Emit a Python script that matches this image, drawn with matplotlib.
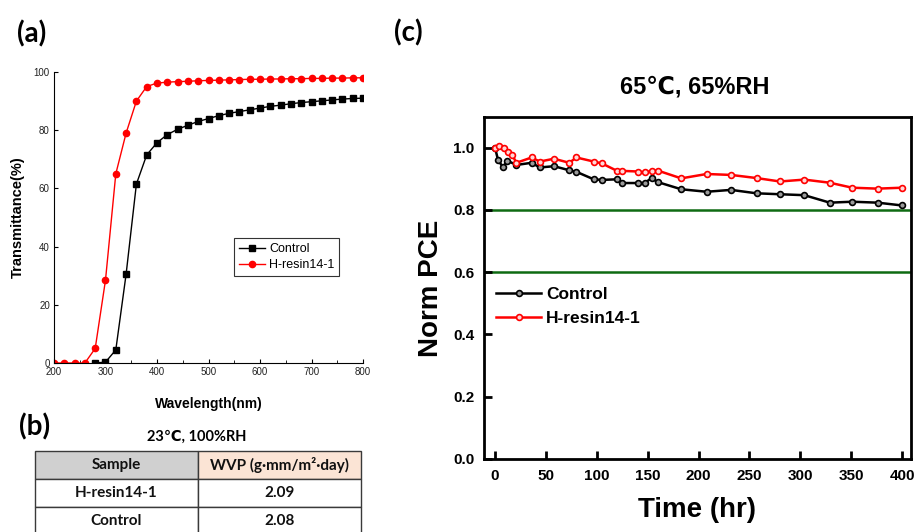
import numpy as np
import matplotlib.pyplot as plt
from matplotlib.patches import Rectangle

# (a) UV-vis transmittance
wl_resin = list(range(200, 801, 20))
tr_resin = [0, 0, 0, 0, 5, 28.5, 65, 79, 90, 95, 96.2, 96.5, 96.7, 96.8, 97.0, 97.1,
            97.2, 97.3, 97.4, 97.5, 97.5, 97.6, 97.6, 97.7, 97.7, 97.8, 97.8, 97.9,
            97.9, 98.0, 98.0]
wl_ctrl = list(range(280, 801, 20))
tr_ctrl = [0, 0.3, 4.5, 30.5, 61.5, 71.5, 75.7, 78.5, 80.3, 81.7, 83.0, 84.0, 85.0,
           85.8, 86.4, 87.0, 87.6, 88.2, 88.6, 89.1, 89.5, 89.8, 90.1, 90.4, 90.7,
           90.9, 91.0]

# (b) WVP table
table_title = "23\u2103, 100%RH"
table_header = ["Sample", "WVP (g\u00b7mm/m\u00b2\u00b7day)"]
table_rows = [["H-resin14-1", "2.09"], ["Control", "2.08"]]

# (c) stability at 65C / 65%RH
t_resin = [0, 4, 9, 13, 17, 21, 36, 44, 58, 73, 80, 97, 105, 120, 125, 141, 147, 154,
           160, 183, 208, 232, 257, 280, 304, 329, 351, 376, 400]
pce_resin = [1.0, 1.005, 1.0, 0.987, 0.976, 0.951, 0.968, 0.955, 0.964, 0.951, 0.968,
             0.955, 0.949, 0.925, 0.925, 0.923, 0.92, 0.925, 0.926, 0.901, 0.915,
             0.912, 0.902, 0.891, 0.897, 0.887, 0.871, 0.868, 0.871]
t_ctrl = [0, 3, 8, 12, 21, 36, 44, 58, 73, 80, 97, 105, 120, 125, 141, 147, 154, 160,
          183, 208, 232, 257, 280, 304, 329, 351, 376, 400]
pce_ctrl = [1.0, 0.960, 0.936, 0.958, 0.944, 0.951, 0.936, 0.940, 0.927, 0.922, 0.898,
            0.896, 0.898, 0.886, 0.886, 0.886, 0.902, 0.889, 0.866, 0.858, 0.864,
            0.853, 0.850, 0.847, 0.823, 0.826, 0.823, 0.814]
ref_lines = [0.8, 0.6]

W, H = 917, 532
fig = plt.figure(figsize=(W / 100, H / 100), dpi=100)


def fbox(left, top, right, bottom):
    return [left / W, (H - bottom) / H, (right - left) / W, (bottom - top) / H]


arial = ["Liberation Sans", "DejaVu Sans"]
calib = ["Lato", "DejaVu Sans"]

# ---------------- panel (a)
ax1 = fig.add_axes(fbox(54, 72, 363, 363))
ax1.plot(wl_ctrl, tr_ctrl, "-s", color="black", lw=1.0, ms=4, label="Control")
ax1.plot(wl_resin, tr_resin, "-o", color="red", lw=1.0, ms=4.5, label="H-resin14-1")
ax1.set_xlim(200, 800)
ax1.set_ylim(0, 100)
ax1.set_xticks(range(200, 801, 100))
ax1.set_xticks(range(250, 800, 100), minor=True)
ax1.set_yticks(range(0, 101, 20))
ax1.spines[["top", "right"]].set_visible(False)
for s in ["left", "bottom"]:
    ax1.spines[s].set_linewidth(0.8)
ax1.tick_params(which="major", direction="in", length=3, width=0.8, labelsize=7,
                labelcolor="#222222", pad=3)
ax1.tick_params(which="minor", direction="in", length=2, width=0.6)
for lab in ax1.get_xticklabels() + ax1.get_yticklabels():
    lab.set_family(arial)
ax1.set_ylabel("Transmittance(%)", fontsize=10.5, fontweight="bold", family=arial)
ax1.yaxis.set_label_coords(-29 / 309, 0.5)
ax1.set_xlabel("Wavelength(nm)", fontsize=10, fontweight="bold", family=arial)
ax1.xaxis.set_label_coords(0.5, -34 / 291)
leg1 = ax1.legend(loc="upper left", bbox_to_anchor=(234 / W, (H - 238) / H),
                  bbox_transform=fig.transFigure, fancybox=False, edgecolor="#333333",
                  framealpha=1, prop={"family": arial, "size": 9}, handlelength=2.1,
                  handletextpad=0.3, borderpad=0.4, labelspacing=0.35, borderaxespad=0)
leg1.get_frame().set_linewidth(0.8)

# ---------------- panel (b) table
axt = fig.add_axes(fbox(35, 451, 361, 532))
axt.set_xlim(0, 1)
axt.set_ylim(81 / 28, 0)
axt.axis("off")
split = (198 - 35) / 326
col_x = [0, split]
col_w = [split, 1 - split]
header_fill = ["#d0d0d0", "#fbe4d5"]
for j in range(2):
    axt.add_patch(Rectangle((col_x[j], 0), col_w[j], 1, facecolor=header_fill[j],
                            edgecolor="#3a3a3a", lw=1.0, clip_on=False))
    axt.text(col_x[j] + col_w[j] / 2, 0.5, table_header[j], ha="center", va="center",
             fontsize=11, fontweight="bold", family=calib, color="#111111")
for i, row in enumerate(table_rows):
    for j in range(2):
        axt.add_patch(Rectangle((col_x[j], i + 1), col_w[j], 1, facecolor="white",
                                edgecolor="#3a3a3a", lw=1.0, clip_on=False))
        axt.text(col_x[j] + col_w[j] / 2, i + 1.5, row[j], ha="center", va="center",
                 fontsize=11, fontweight="bold", family=calib, color="#111111")
fig.text(197 / W, 1 - 437 / H, table_title, ha="center", va="center", fontsize=10.5,
         fontweight="bold", family=calib)

# ---------------- panel (c)
ax2 = fig.add_axes(fbox(484, 117, 911, 459))
for yv in ref_lines:
    ax2.axhline(yv, color="#0e6b12", lw=1.8, zorder=1)
ax2.plot(t_ctrl, pce_ctrl, "-o", color="black", lw=1.8, ms=4.2, mfc="#9a9a9a",
         mec="black", mew=1.2, label="Control", zorder=3)
ax2.plot(t_resin, pce_resin, "-o", color="red", lw=1.8, ms=4.2, mfc="#ffd8d8",
         mec="red", mew=1.2, label="H-resin14-1", zorder=4)
ax2.set_xlim(-10.8, 408.8)
ax2.set_ylim(0, 1.098)
ax2.set_xticks(range(0, 401, 50))
ax2.set_yticks(np.arange(0, 1.01, 0.2))
ax2.set_yticklabels(["0.0", "0.2", "0.4", "0.6", "0.8", "1.0"])
for s in ax2.spines.values():
    s.set_linewidth(2)
ax2.tick_params(direction="in", length=6, width=2, labelsize=11, pad=7)
for lab in ax2.get_xticklabels() + ax2.get_yticklabels():
    lab.set_family(arial)
    lab.set_fontweight("bold")
ax2.set_ylabel("Norm PCE", fontsize=20, fontweight="bold", family=arial)
ax2.yaxis.set_label_coords(-40 / 427, 0.5)
ax2.set_xlabel("Time (hr)", fontsize=20, fontweight="bold", family=arial)
ax2.xaxis.set_label_coords(0.5, -38 / 342)
ax2.legend(loc="upper left", bbox_to_anchor=(496 / W, (H - 287) / H),
           bbox_transform=fig.transFigure, frameon=False,
           prop={"family": arial, "size": 12.5, "weight": "bold"}, handlelength=2.6,
           handletextpad=0.3, labelspacing=0.5, borderpad=0, borderaxespad=0)
fig.text(695 / W, 1 - 87 / H, "65\u2103, 65%RH", ha="center", va="center",
         fontsize=17, fontweight="bold", family=arial)

# panel letters
for lbl, px, py in [("(a)", 32, 34), ("(b)", 35, 427), ("(c)", 408, 33)]:
    fig.text(px / W, 1 - py / H, lbl, ha="center", va="center", fontsize=20,
             fontweight="bold", family=calib)

fig.savefig("out.png", dpi=100)
